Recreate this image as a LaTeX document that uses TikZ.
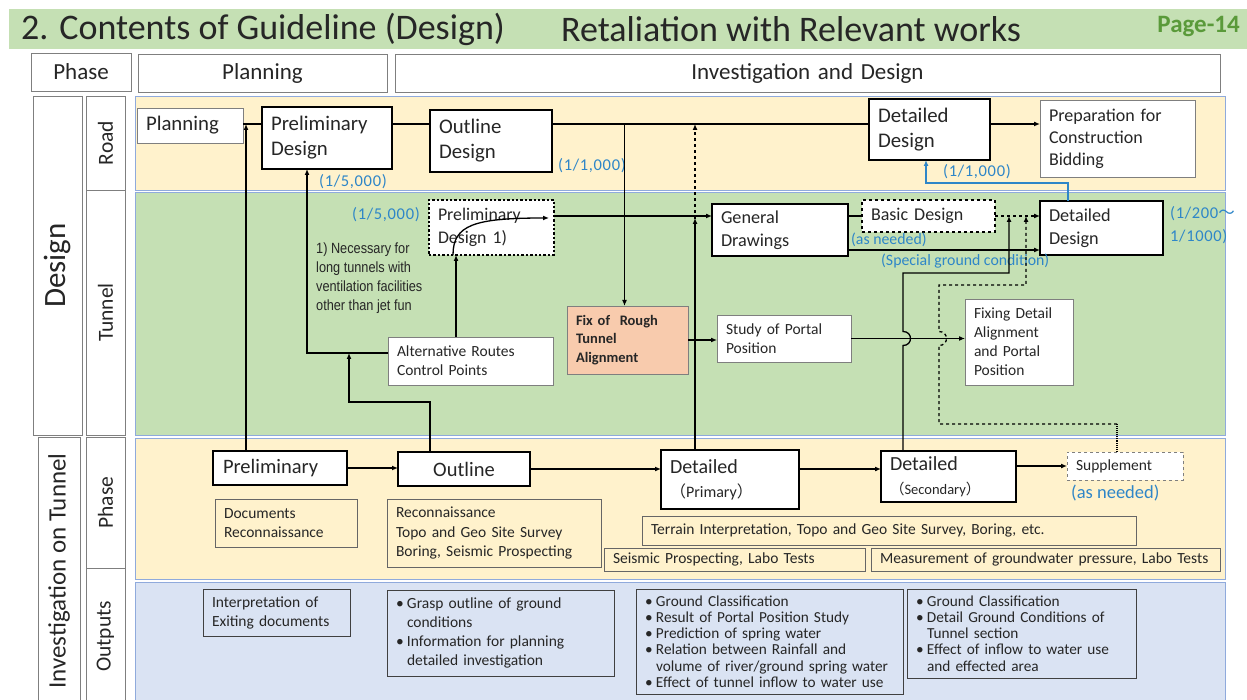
\documentclass[tikz,border=0pt]{standalone}
\usepackage{fontspec}
\setmainfont{Carlito}
\newfontfamily\cjk{Noto Sans CJK JP}
\newfontfamily\narrowf[FakeStretch=0.86]{Liberation Sans}
\usetikzlibrary{arrows.meta}
\definecolor{txt}{HTML}{262626}
\definecolor{titleG}{HTML}{C5E0B4}
\definecolor{bandY}{HTML}{FFF2CC}
\definecolor{bandG}{HTML}{C5E0B4}
\definecolor{bandB}{HTML}{DAE3F3}
\definecolor{bandL}{HTML}{8FAADC}
\definecolor{salmon}{HTML}{F8CBAD}
\definecolor{lblue}{HTML}{2E86C8}
\definecolor{pageG}{HTML}{5A9A3A}
\definecolor{bgray}{HTML}{7F7F7F}
\newcommand\fs[2]{\fontsize{#1}{#2}\selectfont}
\newcommand\bx[7]{\node[#2, minimum width=#5pt, minimum height=#6pt, text width=\dimexpr#5pt-18pt\relax] (#1) at (#3,#4) {#7};}
\newcommand\bul{\makebox[11pt][l]{•}}
\newcommand\cont{\hspace*{11pt}}
\newcommand\wide{\addfontfeatures{LetterSpace=4}}
\begin{document}
\begin{tikzpicture}[x=1pt,y=-1pt,
  base/.style={anchor=north west, outer sep=0pt, inner xsep=9pt, inner ysep=2pt, align=left, text=txt},
  thk/.style={base, draw=black, line width=2.6pt, fill=white, font=\fs{20.8}{25}},
  thkm/.style={base, draw=black, line width=2.6pt, fill=white, font=\fs{18.2}{23.5}},
  thn/.style={base, draw=bgray, line width=0.8pt, fill=white, font=\fs{15.5}{19}},
  pln/.style={base, draw=bgray!80!black, line width=0.8pt, font=\fs{15.5}{19.5}},
  outb/.style={base, draw=black!75, line width=0.8pt, font=\fs{15.3}{16.2}},
  hdr/.style={base, draw=bgray, line width=0.9pt, fill=white, align=center, font=\fs{23}{26}},
  lbox/.style={draw=bgray, line width=0.8pt, inner sep=0pt, outer sep=0pt, text=txt, rotate=90},
  lab/.style={anchor=west, inner sep=0pt, text=lblue, font=\fs{15.8}{22}},
  labn/.style={lab, font=\fs{16.5}{23}\wide},
  ln/.style={line width=1.3pt},
  arr/.style={line width=1.3pt, -{Latex[length=6pt,width=5pt]}},
  barr/.style={line width=1.6pt, draw=lblue, -{Latex[length=6pt,width=5pt]}}
]
\path[use as bounding box] (0,0) rectangle (1247,700);
\fill[white] (0,0) rectangle (1247,700);

% title
\fill[titleG] (9,9) rectangle (1247,49);
\node[anchor=west, inner sep=0pt, text=txt, font=\fs{36}{40}] (title) at (21,29) {2. Contents of Guideline (Design)};
\node[anchor=west, inner sep=0pt, text=txt, font=\fs{36}{40}] (title2) at (561,29) {Retaliation with Relevant works};
\node[anchor=east, inner sep=0pt, text=pageG, font=\fs{25}{28}\bfseries] (page) at (1240,27) {Page-14};

% headers
\bx{hPhase}{hdr}{31}{53}{100}{38}{Phase}
\bx{hPlan}{hdr}{138}{54}{249}{38}{Planning}
\bx{hInv}{hdr}{395}{54}{825}{38}{Investigation and Design}

% left column
\node[lbox, minimum width=339pt, minimum height=49pt, font=\fs{31}{34}] (lDesign) at (57.5,265.5) {Design};
\node[lbox, minimum width=94pt, minimum height=39pt, font=\fs{21.5}{24}] (lRoad) at (105.5,143) {Road};
\node[lbox, minimum width=245pt, minimum height=39pt, font=\fs{21.5}{24}] (lTunnel) at (105.5,312.5) {Tunnel};
\node[lbox, minimum width=268pt, minimum height=42pt, font=\fs{25}{28}] (lInv) at (59,571) {Investigation on Tunnel};
\node[lbox, minimum width=131pt, minimum height=39pt, font=\fs{21.5}{24}] (lPhase) at (105.5,502.5) {Phase};
\node[lbox, minimum width=137pt, minimum height=39pt, font=\fs{21.5}{24}] (lOut) at (105.5,636.5) {Outputs};

% bands
\filldraw[fill=bandY, draw=bandL, line width=0.8pt] (135,96) rectangle (1225,190);
\filldraw[fill=bandG, draw=bandL, line width=0.8pt] (135,192) rectangle (1225,435);
\filldraw[fill=bandY, draw=bandL, line width=0.8pt] (135,438) rectangle (1225,579);
\filldraw[fill=bandB, draw=bandL, line width=0.8pt] (135,582) rectangle (1225,706);

% road nodes
\bx{plan}{thn, font=\fs{20.8}{24}}{137}{108}{106}{35}{Planning}
\bx{prelimD}{thk}{262}{107}{130}{62}{Preliminary\\Design}
\bx{outD}{thk}{430}{110}{122}{62}{Outline\\Design}
\bx{detD}{thk}{869}{99}{121}{61}{Detailed\\Design}
\bx{prep}{thn, font=\fs{18}{22}}{1040}{100}{155}{77}{Preparation for\\Construction\\Bidding}

% tunnel nodes
\bx{pd1}{base, draw=black, line width=2.4pt, dotted, fill=white, font=\fs{17.8}{23}}{429}{200}{125}{55}{Preliminary\\Design 1)}
\bx{genD}{thkm}{712}{204}{136}{52}{General\\Drawings}
\bx{basic}{base, draw=black, line width=2.4pt, dashed, fill=white, font=\fs{18}{21}}{862}{200}{133}{32}{Basic Design}
\bx{tdetD}{thkm}{1040}{201}{123}{54}{Detailed\\Design}
\bx{altR}{thn}{388}{337}{165}{48}{Alternative Routes\\Control Points}
\bx{fix}{base, draw=bgray, line width=0.8pt, fill=salmon, font=\fs{14.5}{18.5}\bfseries}{567}{306}{121}{68}{Fix of\ \ Rough\\Tunnel\\Alignment}
\bx{study}{thn}{717}{315}{134}{47}{Study of Portal\\Position}
\bx{fixD}{thn}{965}{299}{108}{86}{Fixing Detail\\Alignment\\and Portal\\Position}
\node[anchor=north west, inner sep=0pt, align=left, text=txt, font=\narrowf\fs{14.8}{19}] (note) at (316,243) {1) Necessary for\\long tunnels with\\ventilation facilities\\other than jet fun};

% investigation phase nodes
\bx{iprel}{thk, font=\fs{20.5}{23}, inner xsep=10pt}{213}{451}{132}{34}{Preliminary}
\bx{iout}{thk, font=\fs{20.5}{23}, align=center}{398}{452}{132}{34}{Outline}
\bx{dprim}{thk, font=\fs{20}{24}}{661}{450}{138}{59}{Detailed\\{\fs{16}{18}{\cjk （}Primary{\cjk ）}}}
\bx{dsec}{thk, font=\fs{20}{24}}{881}{451}{135}{51}{Detailed\\{\fs{14.5}{17}{\cjk （}Secondary{\cjk ）}}}
\bx{supp}{base, draw=bgray, line width=0.8pt, dashed, fill=white, font=\fs{15.5}{17}, inner xsep=7pt}{1067}{452}{116}{28}{Supplement}
\bx{doc}{pln}{215}{499}{142}{48}{Documents\\Reconnaissance}
\bx{recon}{pln}{387}{499}{214}{68}{Reconnaissance\\Topo and Geo Site Survey\\Boring, Seismic Prospecting}
\bx{terr}{pln}{642}{516}{494}{29}{Terrain Interpretation, Topo and Geo Site Survey, Boring, etc.}
\bx{seis}{pln, inner xsep=6pt}{604}{548}{261}{23}{Seismic Prospecting, Labo Tests}
\bx{meas}{pln, inner xsep=8pt}{871}{548}{349}{23}{Measurement of groundwater pressure, Labo Tests}

% outputs
\bx{o1}{outb, font=\fs{15.5}{19}}{203}{589}{147}{47}{Interpretation of\\Exiting documents}
\bx{o2}{outb, font=\fs{15.5}{19}, inner xsep=8pt}{387}{590}{227}{86}{\bul Grasp outline of ground\\\cont conditions\\\bul Information for planning\\\cont detailed investigation}
\bx{o3}{outb, inner xsep=8pt}{636}{589}{267}{105}{\bul Ground Classification\\\bul Result of Portal Position Study\\\bul Prediction of spring water\\\bul Relation between Rainfall and\\\cont volume of river/ground spring water\\\bul Effect of tunnel inflow to water use}
\bx{o4}{outb, inner xsep=8pt}{907}{589}{229}{89}{\bul Ground Classification\\\bul Detail Ground Conditions of\\\cont Tunnel section\\\bul Effect of inflow to water use\\\cont and effected area}

% blue labels
\node[labn] (s5a) at (319,182) {(1/5,000)};
\node[labn] (s1a) at (558,166) {(1/1,000)};
\node[labn] (s1b) at (943,172) {(1/1,000)};
\node[labn] (s5b) at (352,215) {(1/5,000)};
\node[lab] (asn1) at (851,240) {(as needed)};
\node[lab] (sgc) at (881,261) {(Special ground condition)};
\node[labn, anchor=north west, align=left] (s200) at (1170,206) {(1/200{\cjk ～}\\1/1000)};
\node[lab, font=\fs{18.5}{22}] (asn2) at (1071,493) {(as needed)};

% helper levels
\coordinate (yR) at (0,124);
\coordinate (y216) at (0,216);
\coordinate (y250) at (0,250);

% road line
\draw[ln] (plan.east |- yR) -- (prelimD.west |- yR);
\draw[ln] (prelimD.east |- yR) -- (outD.west |- yR);
\draw[ln] (outD.east |- yR) -- (detD.west |- yR);
\draw[arr] (detD.east |- yR) -- (prep.west |- yR);

% investigation preliminary -> road
\coordinate (p1) at ([xshift=33pt]iprel.north west);
\draw[arr] (p1) -- (p1 |- yR);

% alternative routes -> preliminary design
\coordinate (p2) at ([yshift=-16pt]altR.north west);
\coordinate (p3) at ([xshift=45pt]prelimD.south west);
\draw[arr] (p2) -| (p3);

% investigation outline -> alternative routes line
\coordinate (p4) at ([xshift=32pt]iout.north west);
\coordinate (p5) at (349,402);
\draw[arr] (p4) -- (p4 |- p5) -- (p5) -- (p5 |- p2);

% alternative routes -> preliminary design 1)
\coordinate (p6) at ([xshift=68pt]altR.north west);
\draw[arr] (p6) -- (p6 |- pd1.south);

% curve inside preliminary design 1)
\coordinate (p7) at ([xshift=24pt]pd1.south west);
\coordinate (p8) at ([xshift=-5pt,yshift=-18pt]pd1.north east);
\draw[arr] (p7) .. controls +(0,-30) and +(-75,0) .. (p8);

% preliminary design 1) -> general drawings
\draw[arr] (pd1.east |- y216) -- (genD.west |- y216);

% road -> fix of rough tunnel alignment
\coordinate (p10) at ([xshift=-3pt]fix.north);
\draw[arr] (p10 |- yR) -- (p10);

% detailed primary -> up
\coordinate (p9) at ([xshift=34pt]dprim.north west);
\draw[arr, shorten >=2pt] (p9) -- (p9 |- y216);
\draw[arr, dashed] ([yshift=-3pt]p9 |- y216) -- (p9 |- yR);

% fix -> study -> fixing detail
\draw[arr] (fix.east) -- (study.west |- fix.east);
\draw[arr] (study.east) -- (fixD.west |- study.east);

% general drawings -> basic -> detailed design
\draw[ln] (genD.east |- basic.west) -- (basic.west);
\draw[arr, dashed] (basic.east) -- (tdetD.west |- basic.east);
\draw[arr] (genD.east |- y250) -- (tdetD.west |- y250);

% blue: tunnel detailed design -> road detailed design
\coordinate (b1) at ([xshift=28pt]tdetD.north west);
\coordinate (b2) at ([xshift=57pt]detD.south west);
\draw[barr] (b1) -- ++(0,-18) -| (b2);

% detailed secondary -> up
\coordinate (q1) at ([xshift=22pt]dsec.north west);
\coordinate (q2) at (1009,273);
\path (q1 |- study.east) coordinate (q1h);
\draw[arr] (q1) -- ([yshift=-7pt]q1h) .. controls +(10,0) and +(10,0) .. ([yshift=7pt]q1h) -- (q1h |- q2) -- (q2) -- (q2 |- basic.east);

% supplement -> up (dashed)
\coordinate (s0) at ([xshift=50pt]supp.north west);
\coordinate (s1) at ([yshift=28pt]s0);
\coordinate (s2) at (939,424);
\coordinate (s3) at (1026,285);
\path (s2 |- study.east) coordinate (s2h);
\draw[line width=1.1pt, densely dotted] (s0) -- (s1);
\draw[arr, dashed] (s1) -- (s2) -- ([yshift=-7pt]s2h) .. controls +(10,0) and +(10,0) .. ([yshift=7pt]s2h) -- (s2h |- s3) -- (s3) -- (s3 |- basic.east);

% investigation phase chain
\draw[arr] (iprel.east) -- (iout.west |- iprel.east);
\draw[arr] (iout.east) -- (dprim.west |- iout.east);
\draw[arr] (dprim.east |- iout.east) -- (dsec.west |- iout.east);
\draw[arr] (dsec.east |- supp.west) -- (supp.west);
\end{tikzpicture}
\end{document}
